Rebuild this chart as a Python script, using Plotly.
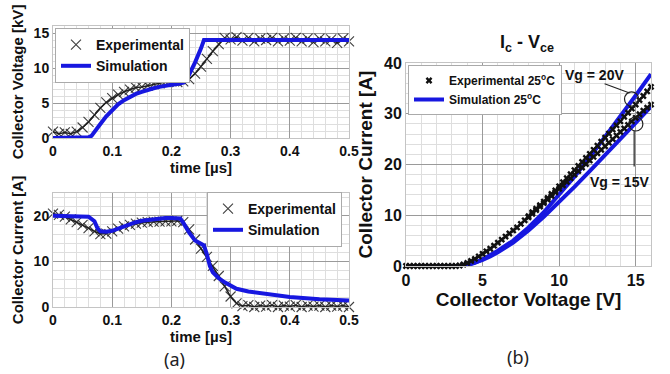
import plotly.graph_objects as go

# ---------------- data ----------------
# (a) top: collector voltage [kV] vs time [us]
t_exp = [round(i * 0.01, 2) for i in range(51)]
v_exp = [0.9, 0.6, 0.8, 0.6, 0.9, 1.5, 2.3, 3.3, 4.3, 5.1,
         5.7, 6.2, 6.6, 6.9, 7.2, 7.3, 7.5, 7.7, 7.8, 8.0,
         8.1, 8.0, 8.1, 8.4, 9.2, 10.2, 11.3, 12.4, 13.4, 14.3,
         14.1, 14.4, 13.9, 14.3, 13.8, 14.2, 14.0, 14.3, 13.8, 14.2,
         13.9, 14.3, 13.8, 14.2, 13.7, 14.2, 13.8, 14.1, 13.6, 14.2, 13.8]
t_sim_v = [0, 0.05, 0.06, 0.065, 0.07, 0.08, 0.09, 0.10, 0.11, 0.12, 0.13, 0.14,
           0.15, 0.16, 0.17, 0.18, 0.19, 0.20, 0.21, 0.22, 0.225, 0.23, 0.24,
           0.25, 0.255, 0.26, 0.5]
v_sim = [0, 0, 0.1, 0.3, 0.8, 2.0, 3.1, 4.0, 4.8, 5.4, 5.9, 6.3,
         6.6, 6.9, 7.1, 7.3, 7.5, 7.6, 7.7, 7.9, 8.2, 9.0, 10.8,
         12.8, 14.0, 14.0, 14.0]

# (a) bottom: collector current [A] vs time [us]
i_exp = [20.5, 20.2, 19.8, 19.2, 18.6, 18.0, 17.3, 16.6, 16.0, 16.1,
         16.6, 17.2, 17.7, 18.0, 18.3, 18.5, 18.6, 18.7, 18.7, 18.8,
         18.8, 18.9, 18.6, 17.0, 14.8, 12.8, 11.0, 9.0, 6.8, 4.5,
         2.3, 0.8, 0.2, 0.4, 0.0, 0.3, 0.1, 0.4, 0.0, 0.3,
         0.1, 0.4, 0.0, 0.3, 0.1, 0.3, 0.0, 0.3, 0.1, 0.3, 0.0]
t_sim_i = [0, 0.05, 0.06, 0.07, 0.075, 0.08, 0.09, 0.10, 0.11, 0.12, 0.13, 0.14,
           0.15, 0.16, 0.17, 0.18, 0.19, 0.20, 0.21, 0.215, 0.22, 0.23, 0.24,
           0.25, 0.255, 0.26, 0.265, 0.27, 0.28, 0.29, 0.30, 0.31, 0.33, 0.35,
           0.38, 0.40, 0.45, 0.50]
i_sim = [20, 20, 19.8, 18.8, 17.3, 16.6, 16.5, 16.7, 17.2, 17.7, 18.2, 18.6,
         18.9, 19.1, 19.3, 19.4, 19.5, 19.5, 19.5, 19.4, 18.5, 16.3, 14.6,
         14.0, 13.5, 11.5, 9.0, 7.6, 6.3, 5.4, 4.6, 4.0, 3.4, 3.0,
         2.5, 2.2, 1.7, 1.4]

# (b) Ic - Vce
vce_exp20 = [round(i * 0.25, 2) for i in range(65)]
ic_exp20 = [0, 0, 0, 0, 0, 0, 0, 0, 0, 0, 0, 0, 0, 0,
            0.1, 0.3, 0.6, 1.0, 1.4, 1.9, 2.4, 2.9, 3.4, 4.0, 4.6, 5.2,
            5.8, 6.4, 7.0, 7.6, 8.3, 9.0, 9.8, 10.6, 11.3, 12.0, 12.7, 13.4,
            14.2, 14.9, 15.7, 16.5, 17.3, 18.1, 18.9, 19.7, 20.5, 21.3, 22.1,
            22.9, 23.7, 24.5, 25.3, 26.1, 26.9, 27.7, 28.5, 29.4, 30.2, 31.0,
            31.8, 32.7, 33.5, 34.4, 35.3]
vce_exp15 = [round(8 + i * 0.25, 2) for i in range(33)]
ic_exp15 = [9.6, 10.3, 11.0, 11.7, 12.4, 13.1, 13.8, 14.5, 15.2, 15.9, 16.6,
            17.3, 18.0, 18.7, 19.4, 20.1, 20.8, 21.5, 22.2, 22.9, 23.6, 24.3,
            25.0, 25.7, 26.4, 27.1, 27.8, 28.5, 29.2, 29.9, 30.6, 31.2, 31.8]
vce_sim = [0, 3.5, 4, 4.5, 5, 5.5, 6, 7, 8, 9, 10, 11, 12, 13, 14, 15, 16]
ic_sim20 = [0, 0, 0.2, 0.6, 1.3, 2.1, 3.0, 5.0, 7.6, 10.6, 14.0, 17.6, 21.4, 25.4, 29.5, 33.6, 37.8]
ic_sim15 = [0, 0, 0.2, 0.6, 1.2, 1.9, 2.7, 4.6, 7.0, 9.7, 12.6, 15.6, 18.7, 21.8, 25.0, 28.2, 31.4]

# ---------------- styles ----------------
BLUE = "#1717e0"
FONT = "Liberation Sans"
MAJ = "#9a9a9a"
MIN = "#dedede"
BOX = "#c4c4c4"

fig = go.Figure()

exp_marker = dict(symbol="x-thin-open", size=10, color="rgba(30,30,30,0.85)",
                  line=dict(width=1.1, color="rgba(30,30,30,0.85)"))

# top-left
fig.add_trace(go.Scatter(x=t_exp, y=v_exp, mode="lines", line=dict(color="#222", width=1.5),
                         showlegend=False, xaxis="x", yaxis="y", cliponaxis=False, hoverinfo="skip"))
fig.add_trace(go.Scatter(x=t_exp, y=v_exp, mode="markers", marker=exp_marker, name="Experimental",
                         legend="legend", xaxis="x", yaxis="y", cliponaxis=False))
fig.add_trace(go.Scatter(x=t_sim_v, y=v_sim, mode="lines", line=dict(color=BLUE, width=4),
                         name="Simulation", legend="legend", xaxis="x", yaxis="y", cliponaxis=False))

# bottom-left
fig.add_trace(go.Scatter(x=t_exp, y=i_exp, mode="lines", line=dict(color="#222", width=1.5),
                         showlegend=False, xaxis="x2", yaxis="y2", cliponaxis=False, hoverinfo="skip"))
fig.add_trace(go.Scatter(x=t_exp, y=i_exp, mode="markers", marker=exp_marker, name="Experimental",
                         legend="legend2", xaxis="x2", yaxis="y2", cliponaxis=False))
fig.add_trace(go.Scatter(x=t_sim_i, y=i_sim, mode="lines", line=dict(color=BLUE, width=4),
                         name="Simulation", legend="legend2", xaxis="x2", yaxis="y2", cliponaxis=False))

# right
exp_small = dict(symbol="x", size=6, color="#111", line=dict(width=0))
fig.add_trace(go.Scatter(x=vce_sim, y=ic_sim20, mode="lines", line=dict(color=BLUE, width=4),
                         showlegend=False, xaxis="x3", yaxis="y3", cliponaxis=False))
fig.add_trace(go.Scatter(x=vce_sim, y=ic_sim15, mode="lines", line=dict(color=BLUE, width=4),
                         name="Simulation 25<sup>o</sup>C", legend="legend3", xaxis="x3", yaxis="y3",
                         cliponaxis=False, legendrank=2))
fig.add_trace(go.Scatter(x=vce_exp15, y=ic_exp15, mode="markers", marker=exp_small,
                         showlegend=False, xaxis="x3", yaxis="y3", cliponaxis=False))
fig.add_trace(go.Scatter(x=vce_exp20, y=ic_exp20, mode="markers", marker=exp_small,
                         name="Experimental 25<sup>o</sup>C", legend="legend3", xaxis="x3", yaxis="y3",
                         cliponaxis=False, legendrank=1))


def ax(domain, rng, dtick, mdtick, title, tsize, fsize, anchor, standoff=None):
    d = dict(domain=domain, range=rng, dtick=dtick, anchor=anchor, automargin=False,
             showline=True, mirror=True, linecolor=BOX, linewidth=1,
             showgrid=True, gridcolor=MAJ, gridwidth=1, zeroline=False,
             ticks="", tickfont=dict(family=FONT, size=tsize, color="#111", weight="bold"),
             title=dict(text=title, font=dict(family=FONT, size=fsize, color="#111", weight="bold")),
             minor=dict(dtick=mdtick, showgrid=True, gridcolor=MIN, gridwidth=1))
    if standoff is not None:
        d["title"]["standoff"] = standoff
    return d


xd_left = [53 / 670, 349 / 670]
leg_common = dict(bgcolor="white", bordercolor="#aaa", borderwidth=1, itemwidth=30,
                  tracegroupgap=0)
fig.update_layout(
    width=670, height=374, margin=dict(l=0, r=0, t=0, b=0, autoexpand=False),
    paper_bgcolor="white", plot_bgcolor="white",
    xaxis=ax(xd_left, [0, 0.5], 0.1, 0.02, "time [µs]", 14, 15, "y", 4),
    yaxis=ax([1 - 138 / 374, 1 - 26 / 374], [0, 16], 5, 1, "Collector Voltage [kV]", 14, 15, "x", 6),
    xaxis2=ax(xd_left, [0, 0.5], 0.1, 0.02, "time [µs]", 14, 15, "y2", 2),
    yaxis2=ax([1 - 307 / 374, 1 - 193 / 374], [0, 25], 10, 2, "Collector Current [A]", 14, 15, "x2", 6),
    xaxis3=ax([406 / 670, 651 / 670], [0, 16], 5, 1, "Collector Voltage [V]", 16, 19, "y3", 4),
    yaxis3=ax([1 - 266 / 374, 1 - 63 / 374], [0, 40], 10, 2, "Collector Current [A]", 16, 19, "x3", 6),
    legend=dict(x=55 / 670, y=1 - 28 / 374, xanchor="left", yanchor="top",
                font=dict(family=FONT, size=14, color="#111", weight="bold"), **leg_common),
    legend2=dict(x=342 / 670, y=1 - 192 / 374, xanchor="right", yanchor="top",
                 font=dict(family=FONT, size=14, color="#111", weight="bold"), **leg_common),
    legend3=dict(x=408 / 670, y=1 - 65 / 374, xanchor="left", yanchor="top",
                 font=dict(family=FONT, size=12, color="#111", weight="bold"), **leg_common),
    showlegend=True,
)

# title of (b)
fig.add_annotation(x=527 / 670, y=1 - 43 / 374, xref="paper", yref="paper", showarrow=False,
                   xanchor="center", yanchor="middle",
                   text="I<sub>c</sub> - V<sub>ce</sub>",
                   font=dict(family=FONT, size=18, color="#111", weight="bold"))
# panel labels
for lbl, px, py in [("(a)", 175, 359), ("(b)", 518, 357)]:
    fig.add_annotation(x=px / 670, y=1 - py / 374, xref="paper", yref="paper", showarrow=False,
                       xanchor="center", yanchor="middle",
                       text=lbl, font=dict(family="Noto Sans", size=18, color="#222"))

# Vg annotations in panel (b)
fig.add_annotation(x=12.3, y=37.6, xref="x3", yref="y3", showarrow=False, text="Vg = 20V",
                   font=dict(family=FONT, size=14, color="#111", weight="bold"))
fig.add_annotation(x=13.95, y=16.6, xref="x3", yref="y3", showarrow=False, text="Vg = 15V",
                   font=dict(family=FONT, size=14, color="#111", weight="bold"))
fig.add_shape(type="circle", xref="x3", yref="y3", x0=14.27, x1=15.19, y0=31.5, y1=34.3,
              line=dict(color="#222", width=1.2))
fig.add_shape(type="circle", xref="x3", yref="y3", x0=14.55, x1=15.47, y0=26.6, y1=29.4,
              line=dict(color="#222", width=1.2))
fig.add_shape(type="line", xref="x3", yref="y3", x0=12.97, y0=35.9, x1=14.6, y1=34.1,
              line=dict(color="#222", width=1.2))
fig.add_shape(type="line", xref="x3", yref="y3", x0=14.9, y0=26.6, x1=14.9, y1=19.6,
              line=dict(color="#222", width=1.2))

fig.write_html("out.html")
